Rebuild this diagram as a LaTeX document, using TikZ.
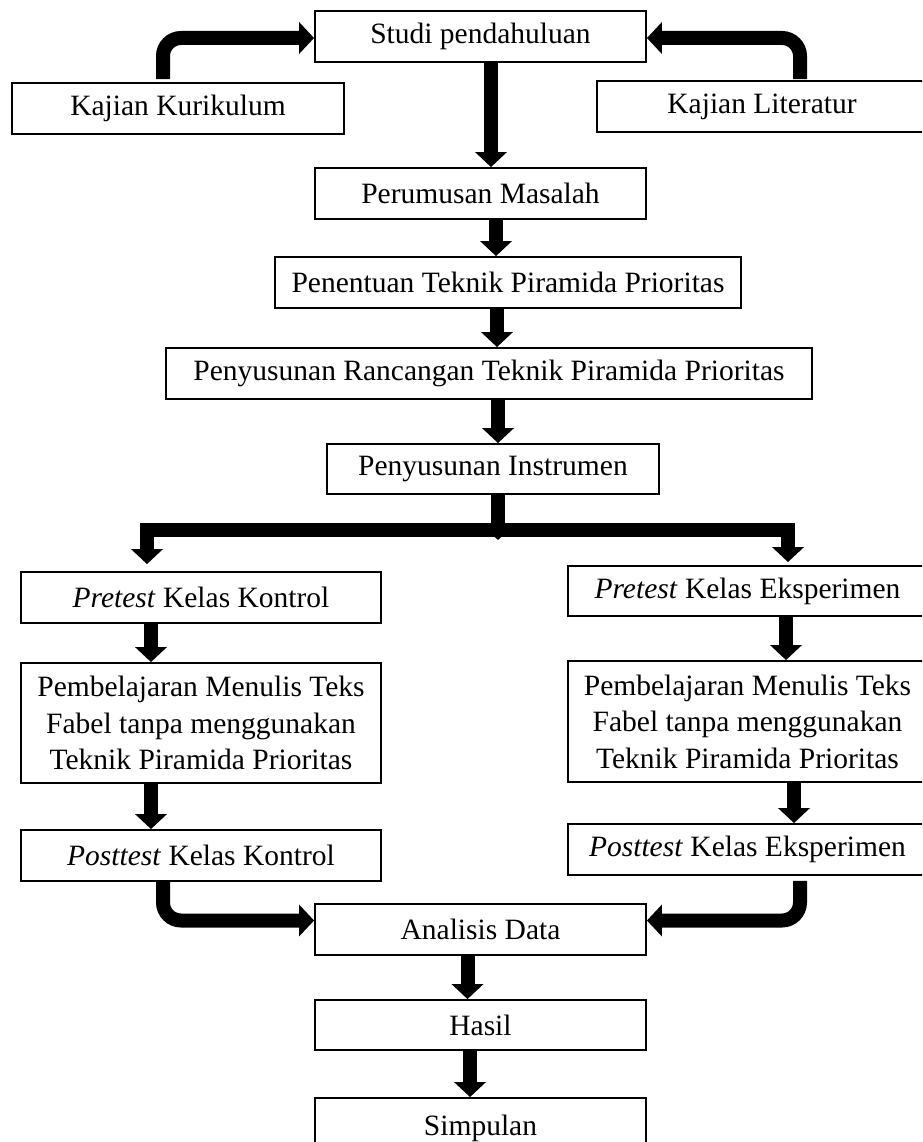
\documentclass[tikz,border=0pt]{standalone}
\usepackage{fontspec}
\setmainfont{Liberation Serif}
\usetikzlibrary{arrows.meta}
\begin{document}
\begin{tikzpicture}[x=1pt,y=-1pt,
  box/.style={draw=black, line width=1.8pt, inner sep=0pt, align=center,
    font=\fontsize{29.5pt}{36.5pt}\selectfont},
  arr/.style={line width=14pt, draw=black,
    -{Triangle[width=31pt,length=15pt]}},
  elbowarr/.style={arr, rounded corners=18pt},
  barline/.style={line width=14pt, draw=black}
]
\useasboundingbox (0,0) rectangle (922,1142);
\clip (0,0) rectangle (922,1142);
\fill[white] (0,0) rectangle (922,1142);

% nodes
\node[box, minimum width=331pt, minimum height=51pt] (studi) at (480.5,36.5) {Studi pendahuluan};
\node[box, minimum width=332pt, minimum height=51pt] (kur) at (178,108.5) {Kajian Kurikulum};
\node[box, minimum width=330pt, minimum height=51pt] (lit) at (762,106.5) {Kajian Literatur};
\node[box, minimum width=331pt, minimum height=51pt] (rumus) at (480.5,193.5) {Perumusan Masalah};
\node[box, minimum width=466pt, minimum height=51pt] (tentu) at (508,282.5) {Penentuan Teknik Piramida Prioritas};
\node[box, minimum width=646pt, minimum height=51pt] (rancang) at (489,373.5) {Penyusunan Rancangan Teknik Piramida Prioritas};
\node[box, minimum width=332pt, minimum height=50pt] (instr) at (493,469) {Penyusunan Instrumen};

\node[box, minimum width=360pt, minimum height=51pt] (prek) at (201,597.5) {\textit{Pretest} Kelas Kontrol};
\node[box, minimum width=360pt, minimum height=120pt] (pembk) at (201,723) {Pembelajaran Menulis Teks\\Fabel tanpa menggunakan\\Teknik Piramida Prioritas};
\node[box, minimum width=360pt, minimum height=51pt] (postk) at (201,855.5) {\textit{Posttest} Kelas Kontrol};

\node[box, minimum width=359pt, minimum height=50pt] (pree) at (747.5,591) {\textit{Pretest} Kelas Eksperimen};
\node[box, minimum width=359pt, minimum height=121pt] (pembe) at (747.5,721.5) {Pembelajaran Menulis Teks\\Fabel tanpa menggunakan\\Teknik Piramida Prioritas};
\node[box, minimum width=359pt, minimum height=51pt] (poste) at (747.5,849.5) {\textit{Posttest} Kelas Eksperimen};

\node[box, minimum width=331pt, minimum height=51pt] (anal) at (480.5,929.5) {Analisis Data};
\node[box, minimum width=331pt, minimum height=50pt] (hasil) at (480.5,1025) {Hasil};
\node[box, minimum width=331pt, minimum height=62pt, text depth=0pt] (simp) at (480.5,1129) {\raisebox{8pt}{Simpulan}};

% column coordinates
\coordinate (c1) at (491,0);
\coordinate (c2) at (496,0);
\coordinate (c3) at (497,0);
\coordinate (c4) at (498,0);
\coordinate (bl) at (147,530);
\coordinate (bm) at (498,530);
\coordinate (br) at (788,530);
\coordinate (ck) at (151,0);
\coordinate (ce1) at (786,0);
\coordinate (ce2) at (794,0);
\coordinate (c5) at (467.5,0);
\coordinate (c6) at (470,0);

% side inputs
\draw[elbowarr, shorten <=3pt] ([xshift=-15pt]kur.north) |- ([yshift=-1.5pt]studi.west);
\draw[elbowarr, shorten <=1pt] ([xshift=38pt]lit.north) |- ([yshift=-1.5pt]studi.east);

% main chain
\draw[arr] (studi.south -| c1) -- (rumus.north -| c1);
\draw[arr] (rumus.south -| c2) -- (tentu.north -| c2);
\draw[arr] (tentu.south -| c3) -- (rancang.north -| c3);
\draw[arr] (rancang.south -| c4) -- (instr.north -| c4);

% branch
\draw[arr] (instr.south -| bm) -- ([yshift=-10pt]bm);
\draw[barline] ([xshift=-7pt]bl) -- ([xshift=7pt]br);
\draw[arr, shorten >=7pt] ([yshift=7pt]bl) -- (prek.north -| bl);
\draw[arr, shorten >=3pt] ([yshift=7pt]br) -- (pree.north -| br);

% left column
\draw[arr] (prek.south -| ck) -- (pembk.north -| ck);
\draw[arr] (pembk.south -| ck) -- (postk.north -| ck);

% right column
\draw[arr] (pree.south -| ce1) -- (pembe.north -| ce1);
\draw[arr] (pembe.south -| ce2) -- (poste.north -| ce2);

% merge
\draw[elbowarr] ([xshift=-38pt]postk.south) |- ([yshift=9pt]anal.west);
\draw[elbowarr, shorten <=5pt] ([xshift=52.5pt]poste.south) |- ([yshift=9pt]anal.east);

% bottom chain
\draw[arr] (anal.south -| c5) -- (hasil.north -| c5);
\draw[arr] (hasil.south -| c6) -- (simp.north -| c6);
\end{tikzpicture}
\end{document}
